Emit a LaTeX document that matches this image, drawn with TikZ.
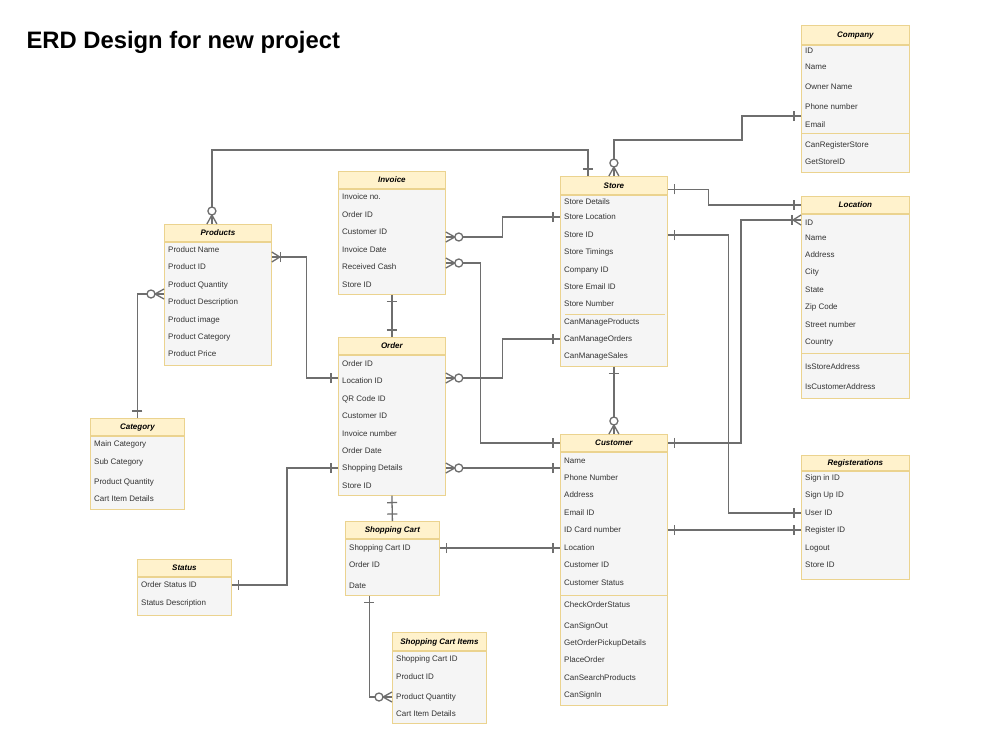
\documentclass[tikz,border=0pt]{standalone}
\usepackage{fontspec}
\setmainfont{Liberation Sans}
\usepackage{xcolor}
\definecolor{headbg}{HTML}{FFF2CC}
\definecolor{bodybg}{HTML}{F5F5F5}
\definecolor{edgeline}{HTML}{EBD38F}
\definecolor{linkgray}{HTML}{6E6E6E}
\definecolor{fieldtext}{HTML}{333333}
\usepackage{tikz}
\usetikzlibrary{positioning, arrows.meta, decorations.markings, calc}

\tikzset{
  relline/.style={draw=linkgray, line width=1.3pt},
  one start/.style={postaction={decorate, decoration={markings,
      mark=at position 0 with {\draw[relline] (7pt,-5pt) -- (7pt,5pt);}}}},
  one end/.style={postaction={decorate, decoration={markings,
      mark=at position 1 with {\draw[relline] (-7pt,-5pt) -- (-7pt,5pt);}}}},
  zmany start/.style={postaction={decorate, decoration={markings,
      mark=at position 0 with {\draw[relline] (9pt,0pt) -- (0pt,5pt) (9pt,0pt) -- (0pt,-5pt);
                               \draw[relline, fill=white] (13pt,0pt) circle (4pt);}}}},
  zmany end/.style={postaction={decorate, decoration={markings,
      mark=at position 1 with {\draw[relline] (-9pt,0pt) -- (0pt,5pt) (-9pt,0pt) -- (0pt,-5pt);
                               \draw[relline, fill=white] (-13pt,0pt) circle (4pt);}}}},
  omany start/.style={postaction={decorate, decoration={markings,
      mark=at position 0 with {\draw[relline] (8pt,0pt) -- (0pt,5pt) (8pt,0pt) -- (0pt,-5pt);
                               \draw[relline] (9pt,-5pt) -- (9pt,5pt);}}}},
}

\begin{document}
\begin{tikzpicture}[
  x=1pt, y=-1pt,
  ehead/.style={anchor=north west, draw=edgeline, fill=headbg, line width=0.8pt,
                font=\fontsize{8}{9.6}\selectfont\bfseries\itshape, inner sep=0pt,
                text height=5.8pt, text depth=0pt},
  ebody/.style={anchor=north west, draw=edgeline, fill=bodybg, line width=0.8pt,
                inner sep=0pt},
  field/.style={anchor=west, font=\fontsize{8}{9.6}\selectfont, text=fieldtext,
                inner sep=0pt, text height=5.8pt, text depth=0pt},
  sepline/.style={draw=edgeline, line width=1pt},
]
\fill[white] (0,0) rectangle (1000,750);
\useasboundingbox (0,0) rectangle (1000,750);

% Title
\node[anchor=base west, font=\fontsize{23.8}{28}\selectfont\bfseries] (title) at (23,48) {ERD Design for new project};

% Company
\node[ehead, minimum width=108pt, minimum height=19pt] (company) at (801,25) {Company};
\node[ebody, minimum width=108pt, minimum height=127pt] (company-b) at (company.south west) {};
\node[field] (co-id) at (805,51) {ID};
\node[field] (co-name) at (805,67) {Name};
\node[field] (co-owner) at (805,87) {Owner Name};
\node[field] (co-phone) at (805,107) {Phone number};
\node[field] (co-email) at (805,125) {Email};
\draw[sepline] (801,133) -- (909,133);
\node[field] (co-reg) at (805,145) {CanRegisterStore};
\node[field] (co-get) at (805,162) {GetStoreID};

% Store
\node[ehead, minimum width=107pt, minimum height=18pt] (store) at (560,176) {Store};
\node[ebody, minimum width=107pt, minimum height=171pt] (store-b) at (store.south west) {};
\node[field] (st-det) at (564,202) {Store Details};
\node[field] (st-loc) at (564,217) {Store Location};
\node[field] (st-id) at (564,235) {Store ID};
\node[field] (st-time) at (564,252) {Store Timings};
\node[field] (st-comp) at (564,270) {Company ID};
\node[field] (st-mail) at (564,287) {Store Email ID};
\node[field] (st-num) at (564,304) {Store Number};
\draw[sepline] (565,314) -- (665,314);
\node[field] (st-prod) at (564,322) {CanManageProducts};
\node[field] (st-ord) at (564,339) {CanManageOrders};
\node[field] (st-sales) at (564,356) {CanManageSales};

% Invoice
\node[ehead, minimum width=107pt, minimum height=17pt] (invoice) at (338,171) {Invoice};
\node[ebody, minimum width=107pt, minimum height=105pt] (invoice-b) at (invoice.south west) {};
\node[field] (in-no) at (342,197) {Invoice no.};
\node[field] (in-ord) at (342,215) {Order ID};
\node[field] (in-cust) at (342,232) {Customer ID};
\node[field] (in-date) at (342,250) {Invoice Date};
\node[field] (in-cash) at (342,267) {Received Cash};
\node[field] (in-store) at (342,285) {Store ID};

% Products
\node[ehead, minimum width=107pt, minimum height=17pt] (products) at (164,224) {Products};
\node[ebody, minimum width=107pt, minimum height=123pt] (products-b) at (products.south west) {};
\node[field] (pr-name) at (168,250) {Product Name};
\node[field] (pr-id) at (168,267) {Product ID};
\node[field] (pr-qty) at (168,285) {Product Quantity};
\node[field] (pr-desc) at (168,302) {Product Description};
\node[field] (pr-img) at (168,320) {Product image};
\node[field] (pr-cat) at (168,337) {Product Category};
\node[field] (pr-price) at (168,354) {Product Price};

% Order
\node[ehead, minimum width=107pt, minimum height=17pt] (order) at (338,337) {Order};
\node[ebody, minimum width=107pt, minimum height=140pt] (order-b) at (order.south west) {};
\node[field] (or-id) at (342,364) {Order ID};
\node[field] (or-loc) at (342,381) {Location ID};
\node[field] (or-qr) at (342,399) {QR Code ID};
\node[field] (or-cust) at (342,416) {Customer ID};
\node[field] (or-inv) at (342,434) {Invoice number};
\node[field] (or-date) at (342,451) {Order Date};
\node[field] (or-ship) at (342,468) {Shopping Details};
\node[field] (or-store) at (342,486) {Store ID};

% Customer
\node[ehead, minimum width=107pt, minimum height=17pt] (customer) at (560,434) {Customer};
\node[ebody, minimum width=107pt, minimum height=253pt] (customer-b) at (customer.south west) {};
\node[field] (cu-name) at (564,461) {Name};
\node[field] (cu-phone) at (564,478) {Phone Number};
\node[field] (cu-addr) at (564,495) {Address};
\node[field] (cu-mail) at (564,513) {Email ID};
\node[field] (cu-card) at (564,530) {ID Card number};
\node[field] (cu-loc) at (564,548) {Location};
\node[field] (cu-id) at (564,565) {Customer ID};
\node[field] (cu-stat) at (564,583) {Customer Status};
\draw[sepline] (560,595) -- (667,595);
\node[field] (cu-check) at (564,605) {CheckOrderStatus};
\node[field] (cu-out) at (564,626) {CanSignOut};
\node[field] (cu-pick) at (564,643) {GetOrderPickupDetails};
\node[field] (cu-place) at (564,660) {PlaceOrder};
\node[field] (cu-search) at (564,678) {CanSearchProducts};
\node[field] (cu-in) at (564,695) {CanSignIn};

% Location
\node[ehead, minimum width=108pt, minimum height=17pt] (location) at (801,196) {Location};
\node[ebody, minimum width=108pt, minimum height=184pt] (location-b) at (location.south west) {};
\node[field] (lo-id) at (805,223) {ID};
\node[field] (lo-name) at (805,238) {Name};
\node[field] (lo-addr) at (805,255) {Address};
\node[field] (lo-city) at (805,272) {City};
\node[field] (lo-state) at (805,290) {State};
\node[field] (lo-zip) at (805,307) {Zip Code};
\node[field] (lo-street) at (805,325) {Street number};
\node[field] (lo-country) at (805,342) {Country};
\draw[sepline] (801,353) -- (909,353);
\node[field] (lo-store) at (805,367) {IsStoreAddress};
\node[field] (lo-cust) at (805,387) {IsCustomerAddress};

% Registerations
\node[ehead, minimum width=108pt, minimum height=15pt] (regs) at (801,455) {Registerations};
\node[ebody, minimum width=108pt, minimum height=108pt] (regs-b) at (regs.south west) {};
\node[field] (re-in) at (805,478) {Sign in ID};
\node[field] (re-up) at (805,495) {Sign Up ID};
\node[field] (re-user) at (805,513) {User ID};
\node[field] (re-reg) at (805,530) {Register ID};
\node[field] (re-out) at (805,548) {Logout};
\node[field] (re-store) at (805,565) {Store ID};

% Category
\node[ehead, minimum width=94pt, minimum height=17pt] (category) at (90,418) {Category};
\node[ebody, minimum width=94pt, minimum height=73pt] (category-b) at (category.south west) {};
\node[field] (ca-main) at (94,444) {Main Category};
\node[field] (ca-sub) at (94,462) {Sub Category};
\node[field] (ca-qty) at (94,482) {Product Quantity};
\node[field] (ca-cart) at (94,499) {Cart Item Details};

% Status
\node[ehead, minimum width=94pt, minimum height=17pt] (status) at (137,559) {Status};
\node[ebody, minimum width=94pt, minimum height=38pt] (status-b) at (status.south west) {};
\node[field] (sa-id) at (141,585) {Order Status ID};
\node[field] (sa-desc) at (141,603) {Status Description};

% Shopping Cart
\node[ehead, minimum width=94pt, minimum height=17pt] (cart) at (345,521) {Shopping Cart};
\node[ebody, minimum width=94pt, minimum height=56pt] (cart-b) at (cart.south west) {};
\node[field] (sc-id) at (349,548) {Shopping Cart ID};
\node[field] (sc-ord) at (349,565) {Order ID};
\node[field] (sc-date) at (349,586) {Date};

% Shopping Cart Items
\node[ehead, minimum width=94pt, minimum height=18pt] (items) at (392,632) {Shopping Cart Items};
\node[ebody, minimum width=94pt, minimum height=72pt] (items-b) at (items.south west) {};
\node[field] (si-cart) at (396,659) {Shopping Cart ID};
\node[field] (si-prod) at (396,677) {Product ID};
\node[field] (si-qty) at (396,697) {Product Quantity};
\node[field] (si-det) at (396,714) {Cart Item Details};

% Relations
\draw[relline, zmany start, one end] (store.north) -- ++(0,-36) -- ++(128,0) |- ([yshift=9pt]co-email.center -| company.west);
\draw[relline, zmany start, one end] ([xshift=-6pt]products.north) -- ++(0,-74) -| ([xshift=-26pt]store.north);
\draw[relline, one start, one end] ([yshift=-4pt]store.east) -- ++(41,0) |- (location.west);
\draw[relline, omany start, one end] ([yshift=3pt]lo-id.center -| location.west) -- ++(-60,0) |- (customer.east);
\draw[relline, one start, one end] (st-id -| store.east) -- ++(61,0) |- (re-user -| regs.west);
\draw[relline, one start, one end] (cu-card -| customer.east) -- (re-reg -| regs.west);
\draw[relline, zmany start, one end] ([yshift=-5pt]in-cust.center -| invoice.east) -- ++(57,0) |- (st-loc -| store.west);
\draw[relline, zmany start, one end] ([yshift=4pt]in-cash.center -| invoice.east) -- ++(35,0) |- (customer.west);
\draw[relline, one start, one end] (invoice-b.south) -- (order.north);
\draw[relline, zmany start, one end] ([yshift=3pt]or-loc.center -| order.east) -- ++(57,0) |- (st-ord -| store.west);
\draw[relline, zmany start, one end] (or-ship -| order.east) -- (or-ship -| customer.west);
\draw[relline, omany start, one end] ([yshift=-7pt]pr-name.center -| products.east) -- ++(35,0) |- ([yshift=3pt]or-loc.center -| order.west);
\draw[relline, one start, zmany end] (category.north) |- ([yshift=-9pt]pr-qty.center -| products.west);
\draw[relline, one start, zmany end] (store-b.south) -- (customer.north);
\draw[relline, one start, one end] (or-ship -| order.west) -- ++(-51,0) |- (sa-id -| status.east);
\draw[relline, one start, one end] (order-b.south) -- (cart.north);
\draw[relline, one start, one end] (sc-id -| cart.east) -- (cu-loc -| customer.west);
\draw[relline, one start, zmany end] ([xshift=-23pt]cart-b.south) |- (si-qty -| items.west);
\end{tikzpicture}
\end{document}
